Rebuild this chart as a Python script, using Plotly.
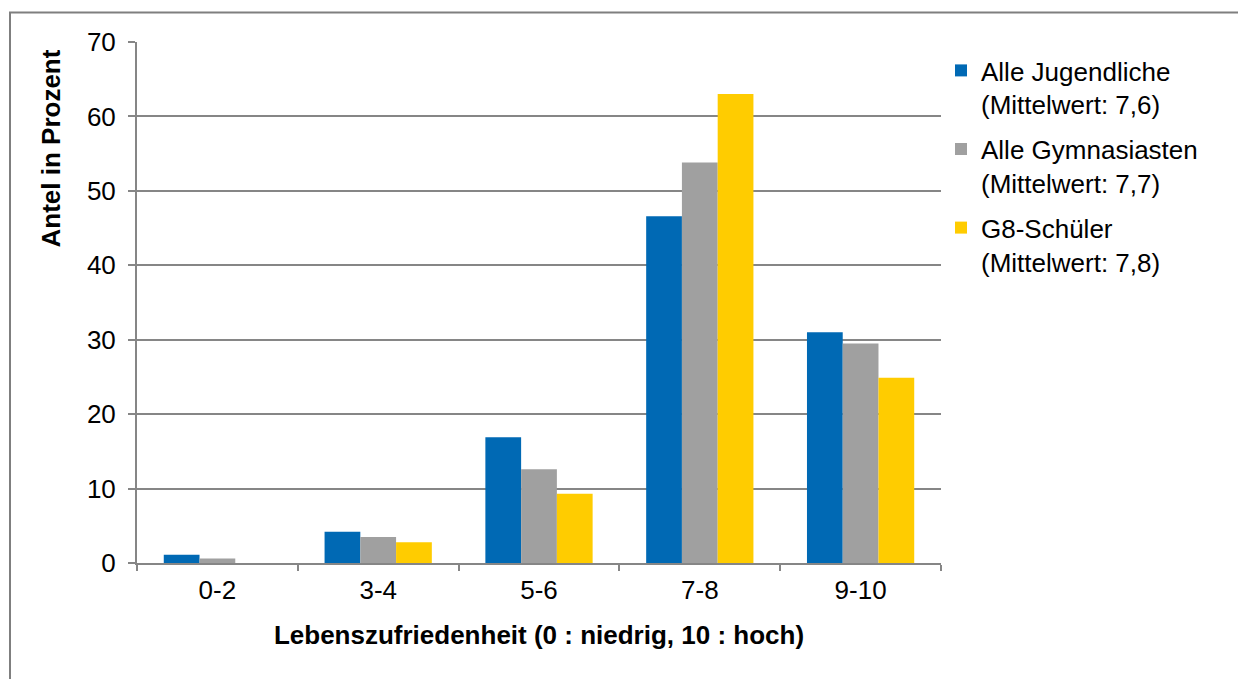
import plotly.graph_objects as go

categories = ["0-2", "3-4", "5-6", "7-8", "9-10"]
series_names = [
    "Alle Jugendliche<br>(Mittelwert: 7,6)",
    "Alle Gymnasiasten<br>(Mittelwert: 7,7)",
    "G8-Schüler<br>(Mittelwert: 7,8)",
]
alle_jugendliche = [1.1, 4.2, 16.9, 46.6, 31.0]
alle_gymnasiasten = [0.6, 3.5, 12.6, 53.8, 29.5]
g8_schueler = [0.0, 2.8, 9.3, 63.0, 24.9]
colors = ["#0069B4", "#A0A0A0", "#FFCC00"]
y_ticks = [0, 10, 20, 30, 40, 50, 60, 70]

FONT = "Liberation Sans, Arial, sans-serif"
GRID = "#868686"
FS = 26

# page body has an 8px offset; plot area target: x 137..941, y 42..563
OFF = 8
PL, PR, PT, PB = 137 - OFF, 941 - OFF, 42 - OFF, 563 - OFF
W, H = 1246, 679
PW, PH = PR - PL, PB - PT

fig = go.Figure()
for i, (name, vals) in enumerate(zip(series_names, [alle_jugendliche, alle_gymnasiasten, g8_schueler])):
    fig.add_trace(go.Bar(
        x=categories, y=vals, name=name, legendgroup=f"g{i}",
        marker=dict(color=colors[i], line=dict(width=0)),
    ))

fig.update_layout(
    width=W, height=H,
    margin=dict(l=PL, r=W - PR, t=PT, b=H - PB, pad=0),
    paper_bgcolor="white", plot_bgcolor="white",
    font=dict(family=FONT, size=FS, color="black"),
    barmode="group", bargap=0.333, bargroupgap=0,
    showlegend=True,
    legend=dict(
        x=1.0, xanchor="left", y=1 - 5 / PH, yanchor="top",
        font=dict(size=FS, family=FONT, color="black"),
        tracegroupgap=8, valign="top",
        bgcolor="rgba(0,0,0,0)", borderwidth=0,
    ),
    xaxis=dict(
        type="category",
        showline=True, linecolor=GRID, linewidth=2,
        ticks="outside", tickson="boundaries", ticklen=6, tickcolor=GRID, tickwidth=2,
        showgrid=False, ticklabelstandoff=3,
        title=dict(text="<b>Lebenszufriedenheit (0 : niedrig, 10 : hoch)</b>",
                   font=dict(size=FS, family=FONT), standoff=22),
        tickfont=dict(size=FS, family=FONT),
    ),
    yaxis=dict(
        range=[0, 70], tickvals=y_ticks,
        showline=True, linecolor=GRID, linewidth=2,
        ticks="outside", ticklen=7, tickcolor=GRID, tickwidth=2,
        showgrid=True, gridcolor=GRID, gridwidth=2,
        zeroline=False, ticklabelstandoff=7,
        tickfont=dict(size=FS, family=FONT),
    ),
    annotations=[dict(
        text="<b>Antel in Prozent</b>", textangle=-90,
        xref="paper", yref="paper",
        x=(50 - 137) / PW, y=(563 - 148.5) / PH,
        xanchor="center", yanchor="middle", showarrow=False,
        font=dict(size=FS, family=FONT, color="black"),
    )],
    shapes=[dict(
        type="rect", xref="paper", yref="paper",
        x0=(10 - 137) / PW, x1=1.6, y0=-0.4, y1=(563 - 12.5) / PH,
        line=dict(color="#7f7f7f", width=2), fillcolor="rgba(0,0,0,0)", layer="below",
    )],
)

fig.write_html("out.html")
